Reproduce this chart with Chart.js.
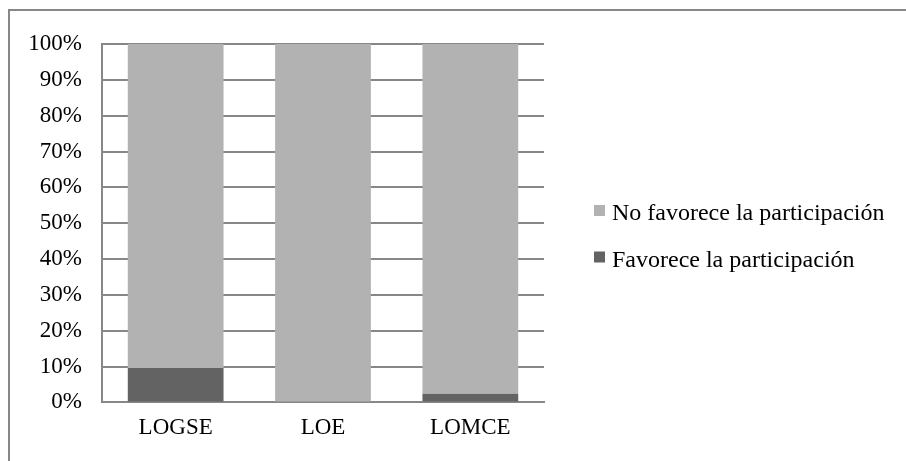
<!DOCTYPE html>
<html>
<head>
<meta charset="utf-8">
<script src="https://cdn.jsdelivr.net/npm/chart.js@4.4.1/dist/chart.umd.min.js"></script>
<style>
html,body{margin:0;padding:0;background:#fff;}
#wrap{width:906px;height:461px;position:relative;}
</style>
</head>
<body>
<div id="wrap"><canvas id="c" width="906" height="461"></canvas></div>
<script>
const categories = ["LOGSE", "LOE", "LOMCE"];
const favorece = [9.6, 0, 2.4];
const noFavorece = [90.4, 100, 97.6];
const seriesNames = ["Favorece la participación", "No favorece la participación"];
const yTicks = [0,10,20,30,40,50,60,70,80,90,100];

const FONT = '"Liberation Serif", "Times New Roman", serif';

const frame = {
  id: 'frame',
  beforeDraw(chart) {
    const ctx = chart.ctx;
    ctx.save();
    ctx.fillStyle = '#fff';
    ctx.fillRect(0,0,chart.width,chart.height);
    ctx.strokeStyle = '#878787';
    ctx.lineWidth = 2;
    ctx.beginPath();
    ctx.moveTo(906, 10);
    ctx.lineTo(9, 10);
    ctx.lineTo(9, 461);
    ctx.stroke();
    ctx.restore();
  }
};

const sideLegend = {
  id: 'sideLegend',
  afterDraw(chart) {
    const ctx = chart.ctx;
    const ds = chart.data.datasets.slice().reverse();
    const baselines = [220, 266.5];
    ctx.save();
    ctx.font = '24px ' + FONT;
    ctx.textBaseline = 'alphabetic';
    ctx.textAlign = 'left';
    ds.forEach((d, i) => {
      const b = baselines[i];
      ctx.fillStyle = d.backgroundColor;
      ctx.fillRect(594, b - 15, 11, 11);
      ctx.fillStyle = '#000';
      ctx.fillText(d.label, 612, b);
    });
    ctx.restore();
  }
};

new Chart(document.getElementById('c'), {
  type: 'bar',
  data: {
    labels: categories,
    datasets: [
      { label: seriesNames[0], data: favorece, backgroundColor: '#636363', borderWidth: 0 },
      { label: seriesNames[1], data: noFavorece, backgroundColor: '#b2b2b2', borderWidth: 0 }
    ]
  },
  options: {
    responsive: false,
    animation: false,
    devicePixelRatio: 1,
    layout: { padding: { top: 44, bottom: 7, left: 8, right: 362 } },
    datasets: { bar: { categoryPercentage: 1, barPercentage: 0.65 } },
    scales: {
      x: {
        stacked: true,
        grid: { display: false, drawTicks: false },
        border: { display: true, color: '#878787', width: 2 },
        ticks: { color: '#000', font: { family: FONT, size: 23 }, padding: 12 }
      },
      y: {
        stacked: true,
        min: 0, max: 100,
        afterBuildTicks(scale) { scale.ticks = yTicks.map(v => ({ value: v })); },
        afterFit(scale) { scale.width = 94; },
        grid: { color: '#878787', lineWidth: 2, drawTicks: false },
        border: { display: true, color: '#878787', width: 2 },
        ticks: { color: '#000', font: { family: FONT, size: 23 }, padding: 20, callback: v => v + '%' }
      }
    },
    plugins: {
      legend: { display: false },
      tooltip: { enabled: false }
    }
  },
  plugins: [frame, sideLegend]
});
</script>
</body>
</html>
